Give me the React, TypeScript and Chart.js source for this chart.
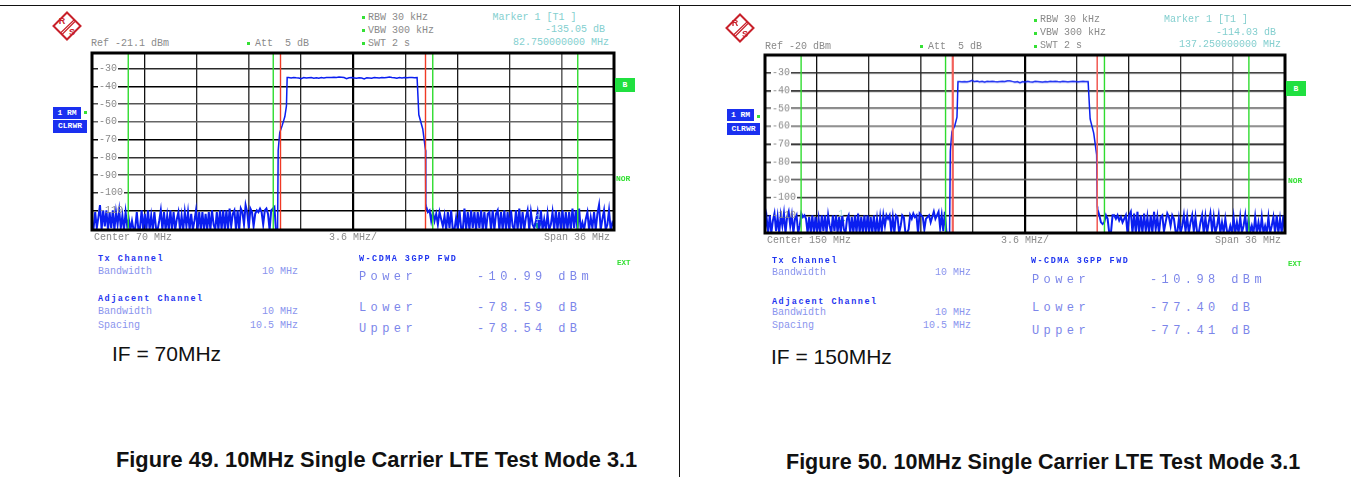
import React, { useEffect, useRef } from "react";
import { Chart, registerables } from "chart.js";

Chart.register(...registerables);

// ---------- shared axis values (offsets in MHz from the start of the 36 MHz span) ----------
const spanMHz = 36;
const divisionOffsets = [3.6, 7.2, 10.8, 14.4, 18, 21.6, 25.2, 28.8, 32.4];
const dbTicks = [-30, -40, -50, -60, -70, -80, -90, -100, -110];
const greenOffsets = [2.5, 12.5, 23.5, 33.5];
const redOffsets = [13, 23];

// ---------- Figure 49 (IF = 70 MHz) ----------
const fig49Center = 70;
const fig49Ref = -21.1;
const fig49MarkerOffset = 30.75;
const fig49MarkerLevel = -118.6;
const fig49NoiseLow = [
  -118, -120, -111, -120, -114, -107, -121, -110, -119, -110, -121, -111, -120, -110, -121, -111, -118, -110, -120,
  -113, -121, -111, -119, -115, -121, -116, -121, -120, -111, -121, -120, -110, -121, -112, -121, -110, -121, -113,
  -121, -111, -120, -121, -116, -110, -121, -111, -121, -113, -121, -110, -121, -111, -121, -115, -111, -121, -113,
  -121, -111, -119, -111, -121, -112, -121, -116, -110, -121, -111, -121, -111, -121, -112, -121, -111, -121, -110,
  -118, -121, -111, -121, -110, -121, -110, -121, -110, -121, -109, -119, -112, -110, -121, -110, -121, -109, -111,
  -118, -107, -111, -120, -109, -111, -119, -112, -110, -111, -109, -111, -118, -110, -109, -112, -121, -110, -109,
  -108, -121, -121,
];
const fig49RiseOffsets = [12.84, 12.95, 13.12, 13.3, 13.41, 13.46];
const fig49RiseLevels = [-76, -66, -62, -57, -51, -35];
const fig49Plateau = [
  -35, -35.2, -34.9, -35.1, -35.2, -35.6, -35, -35.2, -35.1, -35, -35.3, -35.1, -35.4, -35, -35.2, -35, -34.9, -35,
  -34.8, -34.9, -34.7, -34.8, -35, -35.6, -35.1, -35, -35.2, -35.4, -35.1, -35.2, -35.7, -35.1, -35.2, -35.3, -35,
  -35.1, -35.2, -35, -35.1, -34.9, -34.7, -35, -35.1, -35.4, -35, -35.2, -35, -35.1, -34.9, -35, -35.1, -35,
];
const fig49FallOffsets = [22.47, 22.54, 22.81, 23.0, 23.02];
const fig49FallLevels = [-35, -56, -64, -76, -106];
const fig49NoiseHigh = [
  -108, -111, -110, -116, -111, -116, -112, -118, -111, -115, -119, -113, -121, -111, -120, -110, -121, -121, -114,
  -121, -110, -120, -121, -109, -121, -111, -121, -110, -120, -111, -121, -111, -120, -110, -121, -111, -121, -112,
  -111, -121, -110, -121, -112, -110, -121, -111, -121, -110, -121, -111, -121, -110, -119, -121, -110, -121, -109,
  -121, -111, -121, -114, -110, -121, -111, -118, -120, -116, -111, -121, -110, -121, -115, -121, -112, -121, -118,
  -111, -121, -110, -121, -111, -121, -110, -121, -111, -121, -111, -121, -109, -120, -110, -121, -109, -121, -117,
  -121, -115, -111, -121, -114, -120, -111, -121, -112, -107, -121, -115, -110, -121, -118, -110, -121, -117, -119,
];

// ---------- Figure 50 (IF = 150 MHz) ----------
const fig50Center = 150;
const fig50Ref = -20;
const fig50MarkerOffset = 5.25;
const fig50MarkerLevel = -114;
const fig50NoiseLow = [
  -118, -111, -120, -110, -120, -113, -109, -119, -111, -120, -110, -116, -109, -120, -111, -108, -116, -110, -120,
  -112, -110, -120, -116, -109, -111, -110, -112, -120, -111, -120, -110, -120, -111, -120, -112, -120, -110, -119,
  -110, -120, -110, -116, -120, -110, -119, -110, -120, -111, -120, -110, -118, -120, -112, -110, -120, -111, -120,
  -110, -120, -109, -120, -111, -120, -110, -120, -110, -120, -111, -120, -110, -120, -112, -120, -111, -119, -110,
  -116, -110, -112, -110, -119, -111, -120, -110, -111, -120, -116, -110, -111, -120, -120, -118, -110, -112, -109,
  -111, -110, -120, -109, -110, -111, -118, -112, -111, -110, -114, -111, -108, -112, -110, -108, -117, -110, -119,
  -108, -120, -120, -120,
];
const fig50RiseOffsets = [12.83, 12.94, 13.13, 13.29, 13.36];
const fig50RiseLevels = [-74, -63, -60, -55, -35];
const fig50Plateau = [
  -35, -35.1, -35, -35.1, -34.8, -34.3, -35, -34.7, -35.1, -34.8, -35.3, -34.9, -35, -34.8, -35, -35.1, -35, -34.9,
  -35, -34.6, -34.5, -34.9, -35.2, -35, -35.6, -35, -35.2, -34.9, -35.1, -35.2, -34.9, -35, -35.1, -35.2, -35, -35.1,
  -34.9, -35, -34.8, -35, -35.1, -34.9, -35, -35.1, -35, -34.9, -35, -35.1, -35, -34.9, -35, -35,
];
const fig50FallOffsets = [22.42, 22.51, 22.76, 22.96, 23.0];
const fig50FallLevels = [-35, -56, -64, -76, -105];
const fig50NoiseHigh = [
  -107, -110, -114, -115, -114, -110, -112, -120, -120, -110, -110, -112, -110, -113, -111, -114, -112, -110, -120,
  -110, -108, -120, -109, -120, -108, -120, -110, -120, -109, -119, -111, -120, -110, -120, -108, -118, -111, -120,
  -111, -110, -119, -114, -109, -111, -116, -110, -112, -119, -120, -112, -120, -116, -110, -119, -111, -120, -114,
  -110, -119, -111, -120, -120, -114, -110, -120, -111, -120, -114, -109, -119, -111, -120, -116, -110, -120, -114,
  -120, -112, -119, -120, -116, -120, -111, -120, -114, -120, -111, -120, -116, -110, -120, -112, -120, -116, -120,
  -111, -120, -114, -120, -111, -120, -116, -120, -111, -120, -116, -111, -120, -110, -120, -112, -120, -110, -120,
];

// ---------- grid shading of each division ----------
const xGridShades = ["#111", "#2a2a2a", "#4a4a4a", "#2a2a2a", "#000", "#2a2a2a", "#1c1c1c", "#333", "#666"];
const xGridWidths = [1.3, 1.3, 1.6, 1.3, 2.2, 1.3, 1.3, 1.3, 1.6];
const yGridShades = ["#2a2a2a", "#000", "#555", "#666", "#000", "#333", "#555", "#333", "#000"];

const BLUE = "#0a1ef0";
const GREEN = "#2fdc2f";
const RED = "#f03a24";
const SALMON = "#f2605a";
const TEAL = "#17a58c";
const GREY = "#8a8a8a";
const CYAN = "#84cfcf";
const MONO = '"Liberation Mono", monospace';

function sweep(fStart: number, fEnd: number, values: number[]) {
  return values.map((y, i) => ({ x: fStart + ((fEnd - fStart) * i) / (values.length - 1), y }));
}

function pairs(base: number, offsets: number[], levels: number[]) {
  return offsets.map((o, i) => ({ x: base + o, y: levels[i] }));
}

type PanelProps = {
  center: number;
  ref0: number;
  noiseLow: number[];
  riseOffsets: number[];
  riseLevels: number[];
  plateau: number[];
  fallOffsets: number[];
  fallLevels: number[];
  noiseHigh: number[];
  markerOffset: number;
  markerLevel: number;
  left: number;
  top: number;
  width: number;
  height: number;
  noiseLowEnd: number;
  noiseHighStart: number;
  redColor: string;
  redWidths: number[];
};

const frameAndLabels = {
  id: "frameAndLabels",
  beforeDatasetsDraw(chart: any) {
    const { ctx, scales } = chart;
    const y = scales.y;
    const a = chart.chartArea;
    ctx.save();
    ctx.fillStyle = "#fff";
    ctx.font = `10px ${MONO}`;
    y.ticks.forEach((t: any) => {
      const w = ctx.measureText(String(t.value)).width;
      ctx.fillRect(a.left + 6, y.getPixelForValue(t.value) - 4, w + 2, 8);
    });
    ctx.restore();
  },
  afterDatasetsDraw(chart: any) {
    const { ctx } = chart;
    const a = chart.chartArea;
    ctx.save();
    ctx.strokeStyle = "#000";
    ctx.lineWidth = 3;
    ctx.strokeRect(a.left, a.top, a.right - a.left, a.bottom - a.top);
    const m = chart.data.datasets[chart.data.datasets.length - 1].data[0];
    ctx.fillStyle = "#9fdcdc";
    ctx.font = `9px ${MONO}`;
    ctx.textAlign = "center";
    ctx.fillText("1", chart.scales.x.getPixelForValue(m.x), chart.scales.y.getPixelForValue(m.y) - 6);
    ctx.restore();
  },
};

function collapse(s: any) {
  s.paddingLeft = 0;
  s.paddingRight = 0;
  s.paddingTop = 0;
  s.paddingBottom = 0;
  if (s.isHorizontal()) s.height = 0;
  else s.width = 0;
}

function Panel(p: PanelProps) {
  const ref = useRef<HTMLCanvasElement>(null);
  useEffect(() => {
    const start = p.center - spanMHz / 2;
    const vline = (off: number, color: string, w: number) => ({
      data: [
        { x: start + off, y: p.ref0 - 100 },
        { x: start + off, y: p.ref0 },
      ],
      borderColor: color,
      borderWidth: w,
      pointRadius: 0,
    });
    const lowPart = sweep(start, start + p.noiseLowEnd, p.noiseLow);
    const highPart = sweep(start + p.noiseHighStart, start + spanMHz, p.noiseHigh);
    const core = [
      lowPart[lowPart.length - 1],
      ...pairs(start, p.riseOffsets, p.riseLevels),
      ...sweep(start + p.riseOffsets[p.riseOffsets.length - 1] + 0.1, start + p.fallOffsets[0] - 0.05, p.plateau),
      ...pairs(start, p.fallOffsets, p.fallLevels),
      highPart[0],
    ];
    const traceLine = (data: { x: number; y: number }[], w: number) => ({
      data,
      borderColor: BLUE,
      borderWidth: w,
      pointRadius: 0,
      tension: 0,
    });
    const chart = new Chart(ref.current as HTMLCanvasElement, {
      type: "line",
      data: {
        datasets: [
          ...greenOffsets.map((o) => vline(o, GREEN, 1.4)),
          ...redOffsets.map((o, i) => vline(o, p.redColor, p.redWidths[i])),
          traceLine(lowPart, 2),
          traceLine(core, 1.5),
          traceLine(highPart, 2),
          {
            data: [{ x: start + p.markerOffset, y: p.markerLevel }],
            pointStyle: "triangle",
            rotation: 180,
            pointRadius: 4,
            backgroundColor: TEAL,
            borderColor: TEAL,
            showLine: false,
          },
        ],
      } as any,
      options: {
        animation: false,
        responsive: false,
        events: [],
        layout: { padding: 3, autoPadding: false },
        plugins: { legend: { display: false }, tooltip: { enabled: false } },
        scales: {
          x: {
            type: "linear",
            min: start,
            max: start + spanMHz,
            afterFit: collapse,
            afterBuildTicks: (s: any) => {
              s.ticks = divisionOffsets.map((o) => ({ value: start + o }));
            },
            ticks: { display: false, autoSkip: false },
            border: { display: false },
            grid: {
              drawTicks: false,
              color: (c: any) => xGridShades[c.index] ?? "#222",
              lineWidth: (c: any) => xGridWidths[c.index] ?? 1.3,
            },
          },
          y: {
            type: "linear",
            min: p.ref0 - 100,
            max: p.ref0,
            afterFit: collapse,
            afterBuildTicks: (s: any) => {
              s.ticks = dbTicks.map((v) => ({ value: v }));
            },
            ticks: {
              mirror: true,
              z: 1,
              padding: 7,
              autoSkip: false,
              color: GREY,
              font: { family: '"Liberation Mono"', size: 10 },
              callback: (v: any) => String(v),
            },
            border: { display: false },
            grid: {
              drawTicks: false,
              color: (c: any) => yGridShades[c.index] ?? "#222",
              lineWidth: 1.4,
            },
          },
        },
      } as any,
      plugins: [frameAndLabels],
    });
    return () => chart.destroy();
  }, []);
  return (
    <canvas
      ref={ref}
      width={p.width + 6}
      height={p.height + 6}
      style={{ position: "absolute", left: p.left - 3, top: p.top - 3, width: p.width + 6, height: p.height + 6 }}
    />
  );
}

function T(props: {
  x: number;
  y: number;
  s: string;
  c?: string;
  size?: number;
  bold?: boolean;
  right?: boolean;
  sp?: number;
  font?: string;
}) {
  const { x, y, s, c = GREY, size = 10, bold, right, sp = 0, font = MONO } = props;
  return (
    <span
      style={{
        position: "absolute",
        top: y,
        ...(right ? { right: 1351 - x } : { left: x }),
        transform: "translateY(-50%)",
        whiteSpace: "pre",
        color: c,
        fontSize: size,
        fontWeight: bold ? 700 : 400,
        letterSpacing: sp,
        fontFamily: font,
        lineHeight: 1,
      }}
    >
      {s}
    </span>
  );
}

function Logo({ cx, cy }: { cx: number; cy: number }) {
  return (
    <svg
      width={32}
      height={32}
      viewBox="-16 -16 32 32"
      style={{ position: "absolute", left: cx - 16, top: cy - 16 }}
    >
      <g fill="none" stroke="#c8202a" strokeWidth={2}>
        <path d="M0 -13.5 L13.5 0 L0 13.5 L-13.5 0 Z" />
        <path d="M7 -6 L-6.5 7 M8 -4.5 L-5 8.5" strokeWidth={1.1} />
      </g>
      <text x={-5} y={-2} fontSize={9} fontWeight={700} fill="#c8202a" fontFamily="Liberation Sans" textAnchor="middle">
        R
      </text>
      <text x={5} y={9} fontSize={9} fontWeight={700} fill="#c8202a" fontFamily="Liberation Sans" textAnchor="middle">
        S
      </text>
    </svg>
  );
}

function Box(props: { x: number; y: number; w: number; h: number; bg: string; s: string; size?: number }) {
  return (
    <div
      style={{
        position: "absolute",
        left: props.x,
        top: props.y,
        width: props.w,
        height: props.h,
        background: props.bg,
        color: "#fff",
        fontFamily: MONO,
        fontSize: props.size ?? 8,
        fontWeight: 700,
        lineHeight: `${props.h}px`,
        textAlign: "center",
        whiteSpace: "pre",
      }}
    >
      {props.s}
    </div>
  );
}

const Dot = ({ x, y }: { x: number; y: number }) => (
  <div style={{ position: "absolute", left: x - 1.5, top: y - 1.5, width: 3, height: 3, background: "#35e035" }} />
);

const BLUEB = "#1f35f0";
const SOFT = "#8a94ee";
const MID = "#7c86ea";
const SANS = '"Liberation Sans", sans-serif';
const IFSIZE = 21;

export default function App() {
  return (
    <div style={{ position: "fixed", left: 0, top: 0, width: 1351, height: 477, background: "#fff", overflow: "hidden" }}>
      <div style={{ position: "absolute", left: 0, top: 5, width: 1351, height: 1, background: "#111" }} />
      <div style={{ position: "absolute", left: 679, top: 5, width: 1, height: 472, background: "#111" }} />

      <Panel
        center={fig49Center}
        ref0={fig49Ref}
        noiseLow={fig49NoiseLow}
        riseOffsets={fig49RiseOffsets}
        riseLevels={fig49RiseLevels}
        plateau={fig49Plateau}
        fallOffsets={fig49FallOffsets}
        fallLevels={fig49FallLevels}
        noiseHigh={fig49NoiseHigh}
        markerOffset={fig49MarkerOffset}
        markerLevel={fig49MarkerLevel}
        left={91.5}
        top={52.5}
        width={522}
        height={177.5}
        noiseLowEnd={12.8}
        noiseHighStart={23.05}
        redColor={RED}
        redWidths={[1.4, 1.4]}
      />
      <Panel
        center={fig50Center}
        ref0={fig50Ref}
        noiseLow={fig50NoiseLow}
        riseOffsets={fig50RiseOffsets}
        riseLevels={fig50RiseLevels}
        plateau={fig50Plateau}
        fallOffsets={fig50FallOffsets}
        fallLevels={fig50FallLevels}
        noiseHigh={fig50NoiseHigh}
        markerOffset={fig50MarkerOffset}
        markerLevel={fig50MarkerLevel}
        left={765}
        top={55}
        width={520}
        height={177.5}
        noiseLowEnd={12.78}
        noiseHighStart={23.03}
        redColor={SALMON}
        redWidths={[2.2, 1.6]}
      />

      {/* Figure 49 annotations */}
      <Logo cx={66.5} cy={25.5} />
      <T x={91} y={44} s="Ref -21.1 dBm" />
      <Dot x={248.5} y={43} />
      <T x={255} y={44} s="Att  5 dB" />
      <Dot x={363} y={17} />
      <Dot x={363} y={30} />
      <Dot x={363} y={43} />
      <T x={368} y={18} s="RBW 30 kHz" />
      <T x={368} y={31} s="VBW 300 kHz" />
      <T x={368} y={44} s="SWT 2 s" />
      <T x={492.5} y={18} s="Marker 1 [T1 ]" c={CYAN} />
      <T x={605} y={30} s="-135.05 dB" c={CYAN} right />
      <T x={609} y={43} s="82.750000000 MHz" c={CYAN} right />
      <Box x={53} y={107} w={28} h={12} bg="#1a30f0" s="1 RM" />
      <Box x={53} y={120} w={34} h={12.5} bg="#1a30f0" s="CLRWR" />
      <Dot x={85} y={112.5} />
      <Box x={615} y={78} w={20} h={14} bg="#20e040" s="B" />
      <T x={616} y={179} s="NOR" c="#35e035" bold size={8} />
      <T x={94} y={238} s="Center 70 MHz" />
      <T x={329} y={238} s="3.6 MHz/" />
      <T x={610} y={238} s="Span 36 MHz" right />
      <T x={98} y={259} s="Tx Channel" c={BLUEB} bold size={8.5} sp={1.5} />
      <T x={98} y={272} s="Bandwidth" c={SOFT} />
      <T x={298} y={272} s="10 MHz" c={SOFT} right />
      <T x={98} y={299} s="Adjacent Channel" c={BLUEB} bold size={8.5} sp={1.5} />
      <T x={98} y={312} s="Bandwidth" c={SOFT} />
      <T x={298} y={312} s="10 MHz" c={SOFT} right />
      <T x={98} y={326} s="Spacing" c={SOFT} />
      <T x={298} y={326} s="10.5 MHz" c={SOFT} right />
      <T x={359} y={259} s="W-CDMA 3GPP FWD" c={BLUEB} bold size={8.5} sp={1.45} />
      <T x={617} y={264} s="EXT" c="#35e035" bold size={7.5} />
      <T x={359} y={277} s="Power" c={MID} size={12} sp={4.4} />
      <T x={477} y={277} s="-10.99 dBm" c={MID} size={12} sp={4.4} />
      <T x={359} y={308} s="Lower" c={MID} size={12} sp={4.4} />
      <T x={477} y={308} s="-78.59 dB" c={MID} size={12} sp={4.4} />
      <T x={359} y={329} s="Upper" c={MID} size={12} sp={4.4} />
      <T x={477} y={329} s="-78.54 dB" c={MID} size={12} sp={4.4} />
      <T x={112} y={353} s="IF = 70MHz" c="#111" size={IFSIZE} font={SANS} />
      <T x={116} y={460} s="Figure 49. 10MHz Single Carrier LTE Test Mode 3.1" c="#111" size={21.8} bold font={SANS} />

      {/* Figure 50 annotations */}
      <Logo cx={740} cy={28} />
      <T x={765} y={47} s="Ref -20 dBm" />
      <Dot x={921} y={46} />
      <T x={928} y={47} s="Att  5 dB" />
      <Dot x={1035} y={20} />
      <Dot x={1035} y={33} />
      <Dot x={1035} y={46} />
      <T x={1040} y={20} s="RBW 30 kHz" />
      <T x={1040} y={33} s="VBW 300 kHz" />
      <T x={1040} y={46} s="SWT 2 s" />
      <T x={1164} y={20} s="Marker 1 [T1 ]" c={CYAN} />
      <T x={1276} y={33} s="-114.03 dB" c={CYAN} right />
      <T x={1281} y={45} s="137.250000000 MHz" c={CYAN} right />
      <Box x={727} y={109} w={27} h={12} bg="#1a30f0" s="1 RM" />
      <Box x={727} y={122.5} w={33} h={12.5} bg="#1a30f0" s="CLRWR" />
      <Dot x={758} y={116} />
      <Box x={1286} y={81} w={20} h={15} bg="#20e040" s="B" />
      <T x={1288} y={181} s="NOR" c="#35e035" bold size={8} />
      <T x={767} y={241} s="Center 150 MHz" />
      <T x={1001} y={241} s="3.6 MHz/" />
      <T x={1281} y={241} s="Span 36 MHz" right />
      <T x={772} y={261} s="Tx Channel" c={BLUEB} bold size={8.5} sp={1.5} />
      <T x={772} y={273} s="Bandwidth" c={SOFT} />
      <T x={971} y={273} s="10 MHz" c={SOFT} right />
      <T x={772} y={302} s="Adjacent Channel" c={BLUEB} bold size={8.5} sp={1.5} />
      <T x={772} y={313} s="Bandwidth" c={SOFT} />
      <T x={971} y={313} s="10 MHz" c={SOFT} right />
      <T x={772} y={326} s="Spacing" c={SOFT} />
      <T x={971} y={326} s="10.5 MHz" c={SOFT} right />
      <T x={1031} y={261} s="W-CDMA 3GPP FWD" c={BLUEB} bold size={8.5} sp={1.45} />
      <T x={1288} y={265} s="EXT" c="#35e035" bold size={7.5} />
      <T x={1032} y={280} s="Power" c={MID} size={12} sp={4.4} />
      <T x={1150} y={280} s="-10.98 dBm" c={MID} size={12} sp={4.4} />
      <T x={1032} y={308} s="Lower" c={MID} size={12} sp={4.4} />
      <T x={1150} y={308} s="-77.40 dB" c={MID} size={12} sp={4.4} />
      <T x={1032} y={331} s="Upper" c={MID} size={12} sp={4.4} />
      <T x={1150} y={331} s="-77.41 dB" c={MID} size={12} sp={4.4} />
      <T x={771} y={356} s="IF = 150MHz" c="#111" size={IFSIZE} font={SANS} />
      <T x={786} y={463} s="Figure 50. 10MHz Single Carrier LTE Test Mode 3.1" c="#111" size={21.5} bold font={SANS} />
    </div>
  );
}
